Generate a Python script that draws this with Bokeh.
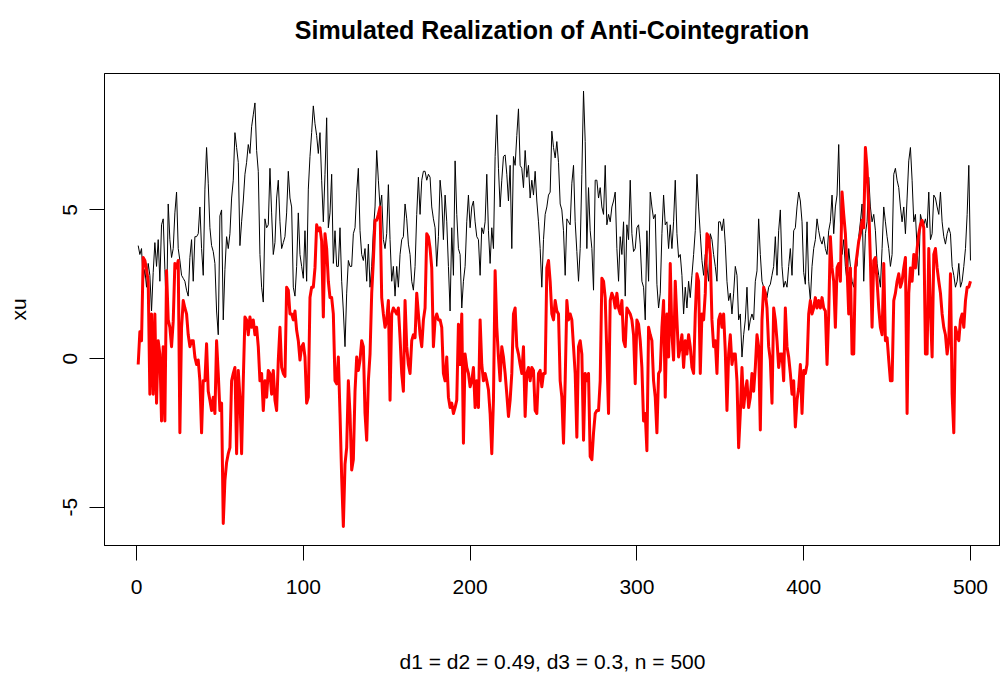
from bokeh.plotting import figure
from bokeh.models import FixedTicker, LinearAxis
from bokeh.embed import file_html
from bokeh.resources import INLINE

title_text = "Simulated Realization of Anti-Cointegration"
x_label = "d1 = d2 = 0.49, d3 = 0.3, n = 500"
y_label = "xu"
x_ticks = [0, 100, 200, 300, 400, 500]
y_ticks = [-5, 0, 5]
y_tick_labels = {-5: "-5", 0: "0", 5: "5"}

series_black = [
    3.8, 3.5, 3.7, 2.6, 3.0, 2.4, 3.2, 2.8, 1.6, 2.9,
    3.9, 3.1, 4.0, 2.6, 4.5, 4.7, 3.0, 1.4, 5.2, 4.0,
    3.4, 3.7, 4.9, 5.6, 3.7, 3.3, 2.8, 2.7, 2.6, 2.3,
    2.1, 3.4, 4.0, 2.6, 4.1, 4.1, 4.2, 5.1, 3.7, 2.8,
    5.7, 7.1, 5.9, 4.4, 3.8, 3.6, 3.2, 1.6, 0.8, 4.8,
    5.0, 1.3, 3.0, 4.1, 3.7, 4.2, 5.4, 6.0, 7.6, 7.1,
    6.6, 3.8, 4.6, 5.3, 6.2, 6.6, 7.2, 6.9, 7.8, 8.2,
    8.6, 7.0, 6.3, 3.5, 2.4, 1.9, 4.7, 4.4, 4.5, 6.4,
    4.9, 3.5, 3.9, 5.4, 6.0, 4.6, 3.7, 3.9, 4.1, 4.9,
    6.3, 5.4, 5.1, 2.4, 2.1, 3.1, 4.9, 3.5, 3.1, 2.7,
    4.3, 2.6, 5.7, 6.8, 7.6, 8.5, 7.9, 7.5, 6.9, 7.6,
    6.0, 4.6, 6.2, 8.1, 4.4, 4.9, 6.2, 3.2, 4.3, 3.1,
    3.1, 4.4, 2.6, 1.6, 0.4, 2.2, 3.3, 3.1,
    3.1, 4.2, 4.4, 5.6, 6.4, 4.3, 3.5, 3.3, 3.7, 2.6,
    3.85, 2.4, 3.1, 4.3, 5.1, 7.0, 6.0, 5.1, 5.5, 4.0,
    3.7, 4.2, 5.85, 4.0, 2.6, 3.1, 2.1, 3.1, 2.4, 3.5,
    4.0, 4.1, 5.2, 4.7, 3.85, 3.5, 2.6, 2.3, 3.1, 4.85,
    6.1, 4.85, 6.0, 6.3, 6.3, 6.0, 6.2, 6.1, 5.1, 4.7,
    4.4, 3.1, 4.1, 6.0, 5.4, 4.0, 5.5, 4.6, 3.1, 1.6,
    4.4, 2.8, 6.65, 4.85, 3.7, 3.5,
    1.7, 2.6, 3.1, 4.6, 5.5, 4.4, 5.1, 5.3, 4.6, 4.1,
    4.0, 2.8, 4.4, 4.2, 4.6, 6.2, 4.3, 3.2, 4.4, 3.7,
    6.8, 8.2, 6.4, 5.1, 6.0, 6.8, 6.85, 6.2, 5.3, 6.5,
    3.7, 6.8, 6.5, 7.5, 8.4, 6.5, 6.4, 5.75, 7.0, 6.1,
    6.5, 5.4, 6.0, 5.5, 6.3, 5.3, 4.6, 3.7, 2.4, 4.0,
    4.85, 5.1, 5.5, 5.6, 7.65, 7.1, 6.75, 7.3, 6.6, 5.2,
    5.0, 4.3, 2.8, 4.7, 4.6, 4.5,
    5.9, 6.5, 4.6, 3.6, 2.6, 3.7, 6.2, 9.0, 7.3, 3.7,
    5.75, 4.3, 3.7, 2.3, 6.0, 6.0, 5.4, 5.75, 5.1, 4.85,
    6.5, 4.5, 4.85, 4.6, 5.1, 5.3, 5.6, 3.7, 2.6, 4.1,
    3.5, 4.6, 2.1, 4.5, 4.0, 6.0, 4.2, 3.6, 3.7, 4.4,
    4.5, 3.85, 2.6, 2.4, 1.3, 4.3, 2.6, 5.6, 5.1, 4.7,
    4.85, 2.5, 1.7, 2.2, 4.2, 5.5, 4.5, 4.6, 3.7, 4.5,
    3.7, 4.6, 6.0, 4.2, 3.4, 3.5,
    2.8, 1.5, 2.4, 1.7, 2.6, 2.05, 2.8, 3.5, 4.3, 6.2,
    5.1, 4.2, 3.3, 2.8, 3.5, 3.1, 2.6, 4.2, 4.0, 3.5,
    3.1, 2.6, 4.6, 4.6, 4.3, 4.7, 3.85, 2.6, 1.95, 2.2,
    1.5, 2.2, 3.1, 2.8, 1.3, 1.5, 0.05, 0.8, 1.3, 2.4,
    0.95, 1.3, 1.5, 1.3, 2.6, 2.95, 4.7, 3.5, 2.6, 2.4,
    2.3, 2.05, 2.4, 2.5, 2.8, 3.1, 4.1, 2.8, 4.3, 5.0,
    3.1, 2.4, 2.6, 2.4,
    3.1, 3.7, 2.8, 4.3, 4.4, 5.1, 5.6, 5.3, 4.6, 2.9,
    2.5, 4.6, 2.6, 1.95, 3.1, 3.7, 4.0, 4.7, 4.3, 4.0,
    3.85, 4.1, 3.7, 3.5, 4.3, 4.6, 5.5, 4.2, 5.1, 5.5,
    7.2, 4.6, 3.5, 4.0, 3.1, 2.6, 3.7, 3.1, 2.6, 2.4,
    3.1, 3.1, 4.1, 4.6, 5.2, 2.6, 4.2, 4.6, 6.1, 5.1,
    4.6, 4.85, 4.3, 3.2, 2.8, 2.4, 3.7, 5.1, 4.6, 4.1,
    3.7, 3.1, 3.5, 6.2, 6.4, 6.0, 5.75, 5.1,
    4.6, 5.1, 4.2, 5.4, 6.65, 7.1, 6.0, 4.6, 4.85, 3.7,
    2.8, 4.85, 4.6, 4.5, 4.7, 4.4, 5.6, 4.0, 4.2, 5.5,
    5.4, 5.1, 4.85, 5.6, 4.6, 4.1, 3.85, 4.2, 4.4, 4.2,
    3.1, 2.8, 2.4, 2.6, 3.2, 2.4, 2.6, 3.1, 3.7, 4.85,
    6.5, 3.3,
]

series_red = [
    -0.2, 0.9, 0.6, 3.4, 3.3, 3.0, 2.6, -1.2, 1.5, -1.2,
    1.5, -1.5, 0.6, 0.15, -2.1, 0.4, -2.1, 2.95, 1.3, 1.05,
    0.4, 1.25, 3.2, 3.05, 3.3, -2.5, 1.05, 1.95, 1.7, 1.5,
    0.8, 0.4, 0.6, 0.6, 0.05, -0.2, -0.05, -0.75, -2.5, -0.75,
    -0.75, 0.5, -1.1, -1.4, -1.75, -1.3, -1.85, 0.6, -0.5, -1.75,
    -1.5, -5.55, -4.1, -3.5, -3.2, -3.0, -0.75, -0.5, -0.3, -3.2,
    -0.4, -1.3, -3.2, -0.75, 1.4, 1.3, 0.8, 1.4, 1.05, 1.3,
    0.8, 1.05, 0.4, -0.75, -0.5, -1.75, -0.75, -1.3, -0.4, -0.5,
    -1.2, -0.4, -1.4, -1.75, -0.05, 1.05, -0.3, -0.5, -0.6, 2.4,
    2.3, 1.5, 1.5, 1.3, 1.6, 0.95, 0.6, -0.05, 0.4, 0.5,
    0.05, -1.5, -1.3, 2.05, 2.4, 2.4, 3.05, 4.5, 4.3, 4.4,
    3.95, 1.4, 4.2, 3.7, 2.6, 2.05, 2.05, 1.5, -0.75, -0.85,
    0.05, -1.85, -4.0, -5.65, -3.55, -3.0, -0.75, -1.85,
    -3.75, -3.4, -1.1, 0.05, -0.4, -0.05, 0.6, 0.4, -1.85, -2.75,
    -0.75, 0.15, 2.2, 3.3, 4.65, 4.65, 4.85, 5.1, 2.05, 1.5,
    1.05, 1.3, 1.95, -1.4, 1.5, 1.7, 1.6, 1.5, 1.7, 0.7,
    -0.5, -1.1, 1.95, 0.4, -0.2, -0.5, 0.6, 0.8, 0.7, 2.2,
    1.5, 0.8, 0.4, 1.3, 1.7, 4.2, 4.1, 3.7, 3.05, 0.4,
    1.3, 1.5, 1.3, 1.3, 1.05, -0.5, -0.75, 0.05, -1.3, -1.65,
    -1.5, -1.85, -1.65, -1.4, 1.15, -0.2,
    1.5, -2.85, 0.15, -0.3, -0.5, -0.95, -0.75, -0.3, -1.65, -0.75,
    -1.65, 1.3, -0.2, -0.75, -0.5, -0.75, -1.05, -1.85, -3.2, -1.4,
    2.95, 1.05, 0.05, -0.75, 0.4, 0.05, -0.5, -1.2, -1.95, -1.4,
    -0.5, 1.5, 1.7, 0.4, 0.15, -0.2, -0.5, 0.4, -1.95, -0.5,
    -0.3, -0.75, -0.3, -0.4, -1.75, -1.85, -0.5, -0.4, -0.95, -0.5,
    -0.5, 3.05, 3.3, 2.6, 1.5, 1.3, 1.95, 1.6, 1.5, -0.75,
    -1.3, -2.85, -0.75, 1.95, 1.3, 1.5,
    1.3, 0.4, -0.5, -2.65, 0.4, 0.6, 0.15, -2.75, -0.5, -0.75,
    -0.5, -3.3, -3.4, -2.5, -1.85, -1.75, -1.75, -0.75, 2.7, 2.6,
    2.05, 0.15, -1.85, 1.95, 2.2, 2.05, 1.7, 2.2, 1.7, 1.5,
    1.95, 0.6, 0.4, 1.7, 1.6, 1.5, 1.3, 0.8, -0.85, 1.3,
    1.15, 0.6, -0.3, -2.1, -1.85, -3.1, 1.05, 0.8, 0.6, -0.75,
    -1.3, -2.5, -0.5, -0.4, 1.05, 1.95, -1.3, 1.5, 0.05, 3.2,
    0.8, -0.05, 2.6, 1.3, 0.05, 0.4,
    0.8, -0.3, 0.6, 0.15, 0.8, 0.4, -0.3, -0.5, 1.5, 2.85,
    2.6, -0.5, 1.5, 1.3, 2.2, 4.2, 4.1, 3.5, 1.3, 0.4,
    0.6, -0.5, 1.3, 1.5, 1.05, 1.5, 0.25, -1.75, 0.15, 0.8,
    -0.2, 0.15, 0.15, -0.75, -3.0, -1.85, -0.3, -1.65, -1.1, -0.75,
    -1.65, -1.3, -0.5, -1.1, -0.3, 0.8, 0.4, -2.4, 1.3, 2.4,
    2.2, 1.7, 0.4, -0.05, -1.5, 1.7, 1.3, 0.6, -0.3, 0.15,
    0.15, -0.75, 1.7, 0.4,
    0.05, -0.5, -1.2, -0.75, -2.3, -1.4, -1.0, -0.2, -1.85, -0.4,
    -0.5, -0.2, 1.5, 1.95, 1.5, 1.7, 2.05, 1.7, 1.95, 1.7,
    2.05, 1.7, 1.6, -0.2, 1.5, 4.1, 3.05, 2.6, 1.05, 3.05,
    3.2, 2.6, 5.6, 4.85, 4.2, 3.05, 1.5, 3.05, 0.15, 0.15,
    3.05, 3.5, 3.95, 4.2, 4.65, 4.4, 7.1, 6.4, 5.1, 3.3,
    1.05, 3.3, 3.4, 2.6, 1.7, 1.05, 0.8, 3.2, 0.6, 0.7,
    -0.05, -0.75, -0.75, 1.95, 2.2, 2.6, 2.85, 2.4,
    2.6, 3.05, 3.4, -1.85, 2.2, 3.05, 2.6, 3.5, 3.05, 3.7,
    4.2, 4.5, 4.65, 4.4, 0.15, 0.15, 3.7, 1.6, 0.05, 3.5,
    3.7, 3.05, 2.6, 2.2, 1.5, 1.05, 0.8, 0.15, 0.6, 2.85,
    -1.2, -2.5, 1.05, 0.8, 0.6, 1.3, 1.5, 1.05, 1.95, 2.4,
    2.4, 2.6,
]

t_black = list(range(1, len(series_black) + 1))
t_red = list(range(1, len(series_red) + 1))

FONT = "Liberation Sans"

p = figure(
    width=1000, height=680,
    x_range=(-19.2, 518.0), y_range=(-6.29, 9.59),
    min_border_left=104, min_border_right=0,
    min_border_top=73, min_border_bottom=135,
    toolbar_location=None, output_backend="svg",
)
p.background_fill_color = "white"
p.border_fill_color = "white"
p.outline_line_color = "black"
p.outline_line_width = 1
p.xgrid.visible = False
p.ygrid.visible = False

for ax in (p.xaxis[0], p.yaxis[0]):
    ax.axis_line_color = "black"
    ax.major_tick_line_color = "black"
    ax.minor_tick_line_color = None
    ax.major_tick_out = 15
    ax.major_tick_in = 0
    ax.major_label_text_font = FONT
    ax.major_label_text_font_size = "21px"
    ax.major_label_text_color = "black"
    ax.axis_label_text_font = FONT
    ax.axis_label_text_font_size = "21px"
    ax.axis_label_text_font_style = "normal"
    ax.axis_label_text_color = "black"

p.xaxis[0].ticker = FixedTicker(ticks=x_ticks)
p.yaxis[0].ticker = FixedTicker(ticks=y_ticks)
p.yaxis[0].major_label_overrides = y_tick_labels
p.xaxis[0].axis_label = x_label
p.yaxis[0].axis_label = y_label
p.xaxis[0].major_label_standoff = 19
p.xaxis[0].axis_label_standoff = 53
p.yaxis[0].major_label_orientation = "vertical"
p.yaxis[0].major_label_standoff = 12
p.yaxis[0].axis_label_standoff = 31

# title drawn as the label of a bare axis above the frame
title_axis = LinearAxis(
    ticker=FixedTicker(ticks=[]),
    axis_line_color=None,
    major_tick_line_color=None,
    minor_tick_line_color=None,
    major_tick_out=0, major_tick_in=0,
    minor_tick_out=0, minor_tick_in=0,
    major_label_standoff=0,
    axis_label=title_text,
    axis_label_standoff=30,
    axis_label_text_font=FONT,
    axis_label_text_font_size="25px",
    axis_label_text_font_style="bold",
    axis_label_text_color="black",
)
p.add_layout(title_axis, "above")

p.line(t_black, series_black, line_color="black", line_width=1, line_join="round")
p.line(t_red, series_red, line_color="#ff0000", line_width=3, line_join="round")

open("out.html", "w").write(file_html(p, INLINE))
